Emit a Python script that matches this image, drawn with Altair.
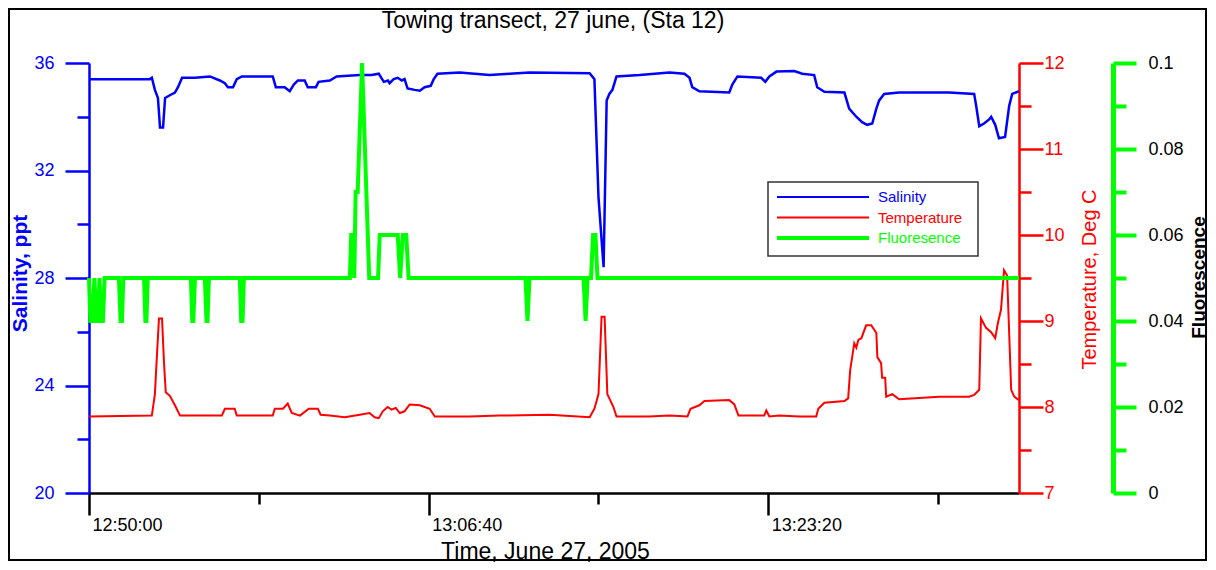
import altair as alt
import pandas as pd

# Time is given in seconds after 12:50:00 (June 27, 2005)
sal_time = [0, 179, 185, 194, 203, 209, 218, 224, 238, 253, 262, 274, 312, 356, 385, 400, 409, 424,
            435, 450, 541, 550, 576, 591, 603, 615, 635, 644, 668, 676, 709, 729, 797, 832, 853, 868,
            880, 885, 897, 909, 921, 929, 938, 959, 974, 988, 1006, 1015, 1026, 1091, 1179, 1238,
            1297, 1474, 1488, 1500, 1515, 1521, 1524, 1532, 1541, 1553, 1621, 1709, 1753, 1768,
            1776, 1797, 1885, 1894, 1909, 1979, 1991, 2003, 2024, 2076, 2100, 2135, 2144, 2165,
            2224, 2238, 2259, 2276, 2291, 2306, 2318, 2326, 2341, 2385, 2532, 2606, 2612, 2621,
            2635, 2650, 2656, 2668, 2679, 2697, 2709, 2718, 2738]
sal_value = [35.4, 35.4, 35.45, 35.0, 34.7, 33.6, 33.6, 34.7, 34.8, 34.9, 35.1, 35.45, 35.45, 35.5,
             35.35, 35.25, 35.1, 35.1, 35.4, 35.5, 35.5, 35.1, 35.1, 34.95, 35.2, 35.35, 35.35, 35.1,
             35.1, 35.3, 35.35, 35.5, 35.55, 35.55, 35.6, 35.3, 35.35, 35.25, 35.4, 35.45, 35.35,
             35.4, 35.05, 35.0, 34.97, 35.1, 35.15, 35.4, 35.6, 35.65, 35.55, 35.6, 35.65, 35.62,
             35.4, 31.0, 28.4, 32.5, 34.6, 34.85, 35.0, 35.5, 35.55, 35.65, 35.6, 35.45, 35.1, 34.95,
             34.9, 35.2, 35.5, 35.45, 35.3, 35.5, 35.68, 35.7, 35.6, 35.55, 35.1, 34.93, 34.9, 34.3,
             34.0, 33.8, 33.7, 33.75, 34.3, 34.6, 34.85, 34.9, 34.9, 34.85, 34.4, 33.65, 33.75, 33.9,
             34.0, 33.7, 33.2, 33.25, 34.4, 34.85, 34.95]

temp_time = [0, 185, 194, 200, 206, 215, 221, 226, 238, 253, 268, 391, 400, 429, 435, 541, 547, 571,
             585, 597, 621, 647, 674, 682, 709, 753, 797, 826, 841, 853, 865, 879, 891, 903, 915,
             929, 944, 974, 1003, 1018, 1121, 1209, 1356, 1474, 1488, 1500, 1509, 1518, 1526, 1544,
             1553, 1650, 1709, 1762, 1771, 1797, 1812, 1885, 1900, 1912, 1988, 1994, 2003, 2032,
             2091, 2141, 2147, 2165, 2224, 2235, 2241, 2253, 2259, 2265, 2274, 2288, 2303, 2318,
             2321, 2332, 2335, 2344, 2347, 2365, 2385, 2503, 2591, 2606, 2621, 2626, 2641, 2656,
             2668, 2676, 2685, 2694, 2703, 2715, 2724, 2738]
temp_value = [7.89, 7.9, 8.15, 8.6, 9.03, 9.03, 8.5, 8.17, 8.13, 8.02, 7.9, 7.9, 7.98, 7.98, 7.9,
              7.9, 7.98, 7.98, 8.04, 7.93, 7.9, 7.98, 7.98, 7.91, 7.9, 7.88, 7.91, 7.93, 7.88, 7.87,
              7.95, 8.0, 7.97, 7.99, 7.93, 7.95, 8.03, 8.02, 7.98, 7.89, 7.89, 7.9, 7.91, 7.88, 7.98,
              8.15, 9.05, 9.05, 8.15, 8.0, 7.89, 7.89, 7.9, 7.89, 7.98, 8.02, 8.07, 8.08, 8.03, 7.9,
              7.9, 7.96, 7.89, 7.9, 7.89, 7.89, 7.98, 8.05, 8.07, 8.1, 8.43, 8.74, 8.69, 8.78, 8.8,
              8.95, 8.95, 8.86, 8.58, 8.51, 8.34, 8.34, 8.12, 8.15, 8.09, 8.12, 8.12, 8.14, 8.2,
              9.03, 8.92, 8.87, 8.8, 8.98, 9.13, 9.59, 9.53, 8.2, 8.12, 8.08]

fluor_time = [0, 4, 10, 16, 21, 26, 31, 35, 41, 46, 88, 93, 97, 101, 162, 166, 169, 173, 300, 304,
              307, 312, 341, 346, 349, 353, 444, 448, 452, 456, 768, 772, 776, 781, 785, 791, 804,
              825, 851, 856, 909, 916, 924, 934, 941, 1285, 1291, 1297, 1456, 1462, 1468, 1478,
              1484, 1491, 1497, 2738]
fluor_value = [0.05, 0.04, 0.04, 0.05, 0.04, 0.04, 0.05, 0.04, 0.04, 0.05, 0.05, 0.04, 0.04, 0.05,
               0.05, 0.04, 0.04, 0.05, 0.05, 0.04, 0.04, 0.05, 0.05, 0.04, 0.04, 0.05, 0.05, 0.04,
               0.04, 0.05, 0.05, 0.06, 0.06, 0.05, 0.07, 0.07, 0.1, 0.05, 0.05, 0.06, 0.06, 0.05,
               0.06, 0.06, 0.05, 0.05, 0.04, 0.05, 0.05, 0.04, 0.05, 0.05, 0.06, 0.06, 0.05, 0.05]

x_tick_values = [0, 500, 1000, 1500, 2000, 2500]
x_major_values = [0, 1000, 2000]
x_major_labels = ["12:50:00", "13:06:40", "13:23:20"]
sal_ticks = [20, 22, 24, 26, 28, 30, 32, 34, 36]
temp_ticks = [7, 7.5, 8, 8.5, 9, 9.5, 10, 10.5, 11, 11.5, 12]
fluor_ticks = [0, 0.01, 0.02, 0.03, 0.04, 0.05, 0.06, 0.07, 0.08, 0.09, 0.1]

chart_title = "Towing transect, 27 june, (Sta 12)"
legend_names = ["Salinity", "Temperature", "Fluoresence"]
BLUE, RED, GREEN = "#0000ff", "#ff0000", "#00ff00"
FONT = "Liberation Sans"

x_label_expr = "".join(
    f"datum.value === {v} ? '{l}' : " for v, l in zip(x_major_values, x_major_labels)
) + "''"

x_enc = alt.X(
    "t:Q",
    scale=alt.Scale(domain=[0, 2738], nice=False, zero=False),
    axis=alt.Axis(
        values=x_tick_values,
        labelExpr=x_label_expr,
        tickSize={"condition": {"test": "datum.value % 1000 === 0", "value": 22}, "value": 11},
        tickWidth=2.5, tickColor="black", domainColor="black", domainWidth=2.5,
        labelAlign="left", labelBaseline="top", labelOffset=3, labelPadding=1,
        labelFontSize=18, labelColor="black",
        title="Time, June 27, 2005", titleFontSize=23, titleFontWeight="normal",
        titleColor="black", titleX=456, titleY=65, titleAlign="center",
        titleBaseline="alphabetic", grid=False,
    ),
)

sal_df = pd.DataFrame({"t": sal_time, "salinity": sal_value})
temp_df = pd.DataFrame({"t": temp_time, "temperature": temp_value})
fl_df = pd.DataFrame({"t": fluor_time, "fluorescence": fluor_value})

sal_line = alt.Chart(sal_df).mark_line(color=BLUE, strokeWidth=2.5).encode(
    x=x_enc,
    y=alt.Y(
        "salinity:Q",
        scale=alt.Scale(domain=[20, 36], nice=False, zero=False),
        axis=alt.Axis(
            orient="left", values=sal_ticks, format="~g",
            labelExpr="datum.value % 4 === 0 ? datum.label : ''",
            tickSize={"condition": {"test": "datum.value % 4 === 0", "value": 24}, "value": 12},
            tickWidth=2.5, tickColor=BLUE, domainColor=BLUE, domainWidth=2.5,
            labelColor=BLUE, labelFontSize=18, labelPadding=11,
            title="Salinity, ppt", titleColor=BLUE, titleFontSize=21, titleFontWeight="bold",
            titleAngle=270, titleX=-69, titleY=210, titleAlign="center", titleBaseline="middle",
            grid=False,
        ),
    ),
)

temp_line = alt.Chart(temp_df).mark_line(color=RED, strokeWidth=2).encode(
    x=x_enc,
    y=alt.Y(
        "temperature:Q",
        scale=alt.Scale(domain=[7, 12], nice=False, zero=False),
        axis=alt.Axis(
            orient="right", values=temp_ticks, format="~g",
            labelExpr="datum.value % 1 === 0 ? datum.label : ''",
            tickSize={"condition": {"test": "datum.value % 1 === 0", "value": 24}, "value": 12},
            tickWidth=2.5, tickColor=RED, domainColor=RED, domainWidth=2.5,
            labelColor=RED, labelFontSize=18, labelPadding=1,
            title="Temperature, Deg C", titleColor=RED, titleFontSize=20, titleFontWeight="normal",
            titleAngle=270, titleX=70, titleY=216, titleAlign="center", titleBaseline="middle",
            grid=False,
        ),
    ),
)

fl_line = alt.Chart(fl_df).mark_line(color=GREEN, strokeWidth=4).encode(
    x=x_enc,
    y=alt.Y(
        "fluorescence:Q",
        scale=alt.Scale(domain=[0, 0.1], nice=False, zero=False),
        axis=alt.Axis(
            orient="right", offset=94, values=fluor_ticks, format="~g",
            labelExpr="round(datum.value * 100) % 2 === 0 ? datum.label : ''",
            tickSize={"condition": {"test": "round(datum.value * 100) % 2 === 0", "value": 23},
                      "value": 13},
            tickWidth=4, tickColor=GREEN, domainColor=GREEN, domainWidth=5,
            labelColor="black", labelFontSize=18, labelPadding=12,
            title="Fluorescence", titleColor="black", titleFontSize=19, titleFontWeight="bold",
            titleAngle=270, titleX=85, titleY=214, titleAlign="center", titleBaseline="middle",
            grid=False,
        ),
    ),
)

one = alt.Data(values=[{}])

border = alt.Chart(one).mark_rect(fill="transparent", stroke="black", strokeWidth=2).encode(
    x=alt.value(-80), x2=alt.value(1117), y=alt.value(-54), y2=alt.value(497)
)

title_text = alt.Chart(one).mark_text(
    align="center", baseline="alphabetic", font=FONT, fontSize=23, color="black"
).encode(x=alt.value(464), y=alt.value(-35), text=alt.value(chart_title))

legend_box = alt.Chart(one).mark_rect(fill="white", stroke="#333333", strokeWidth=1.5).encode(
    x=alt.value(679), x2=alt.value(889), y=alt.value(119), y2=alt.value(193)
)

legend_layers = []
for i, (name, col, w) in enumerate(zip(legend_names, [BLUE, RED, GREEN], [2, 2, 4])):
    yy = 134 + 20.5 * i
    legend_layers.append(
        alt.Chart(one).mark_rule(color=col, strokeWidth=w).encode(
            x=alt.value(688), x2=alt.value(780), y=alt.value(yy)
        )
    )
    legend_layers.append(
        alt.Chart(one).mark_text(align="left", baseline="middle", font=FONT, fontSize=15,
                                 color=col).encode(
            x=alt.value(789), y=alt.value(yy), text=alt.value(name)
        )
    )

chart = (
    alt.layer(border, title_text, sal_line, temp_line, fl_line, legend_box, *legend_layers)
    .resolve_scale(y="independent")
    .properties(
        width=930,
        height=430,
        padding={"left": 81, "top": 55, "right": 189, "bottom": 69},
        autosize=alt.AutoSizeParams(type="none"),
    )
    .configure_view(stroke=None)
    .configure_axis(labelFont=FONT, titleFont=FONT, grid=False)
)

chart.save("out.html", embed_options={"renderer": "svg", "actions": False})
